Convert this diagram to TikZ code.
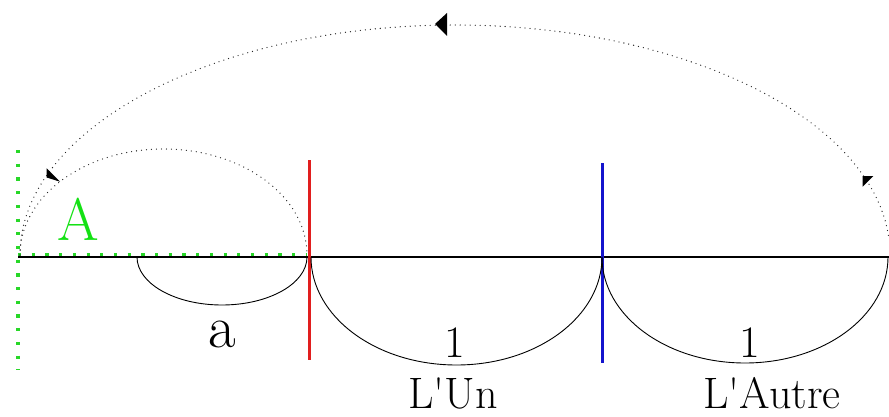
\documentclass[tikz,border=0pt]{standalone}
\begin{document}
\begin{tikzpicture}[x=1pt,y=1pt,
  lbl/.style={inner sep=0pt,anchor=base,font=\fontsize{45}{50}\selectfont},
  dotarc/.style={line width=1.3pt,line cap=round,dash pattern=on 0pt off 5pt,black!85},
  greendots/.style={line width=3.2pt,color=mygreen,dash pattern=on 3.2pt off 10.5pt},
  solidarc/.style={line width=0.9pt},
  tip/.style={fill=black,draw=none}]
\definecolor{mygreen}{RGB}{40,215,40}
\definecolor{textgreen}{RGB}{20,225,20}
\definecolor{myred}{RGB}{225,30,30}
\definecolor{myblue}{RGB}{20,20,205}
\useasboundingbox (0,0) rectangle (889,416);
% key points
\coordinate (O) at (18,159);
\coordinate (E) at (889,159);
\coordinate (R) at (309,159);
\coordinate (B) at (602,159);
% green dotted axes
\coordinate (gv1) at (18,266);
\coordinate (gv2) at (18,46);
\coordinate (gh2) at (306,161);
\coordinate (gh1) at (18,161);
\draw[greendots] (gv1) -- (gv2);
\draw[greendots] (gh1) -- (gh2);
% main black line
\draw[line width=2pt] (O) -- (E);
% red and blue lines
\coordinate (r1) at (309,256);
\coordinate (r2) at (309,56);
\coordinate (b1) at (602,253);
\coordinate (b2) at (602,53);
\draw[myred,line width=3pt] (r1) -- (r2);
\draw[myblue,line width=3pt] (b1) -- (b2);
% solid arcs under the line
\coordinate (a0) at (137,159);
\draw[solidarc] (a0) arc[start angle=180,end angle=360,x radius=85,y radius=48];
\coordinate (u0) at (311,159);
\draw[solidarc] (u0) arc[start angle=180,end angle=360,x radius=145.5,y radius=108];
\draw[solidarc] (B) arc[start angle=180,end angle=360,x radius=143,y radius=106];
% dotted arcs
\coordinate (d0) at (20,161);
\draw[dotarc] (d0) arc[start angle=180,end angle=0,x radius=143.5,y radius=106];
\draw[dotarc] (d0) arc[start angle=180,end angle=4,x radius=435,y radius=230];
% arrow heads
\fill[tip] (435,392) -- (447,403) -- (447,380) -- cycle;
\fill[tip] (862.7,240) -- (873.3,240) -- (862.7,229.3) -- cycle;
\fill[tip] (46.7,247.7) -- (46.7,238.5) -- (60,234.3) -- cycle;
% labels
\node[lbl,text=textgreen,font=\fontsize{60}{66}\selectfont] (lA) at (78,176) {A};
\node[lbl,font=\fontsize{60}{66}\selectfont] (la) at (222,69) {a};
\node[lbl] (l1) at (455,59) {1};
\node[lbl] (l2) at (750,59) {1};
\node[lbl,font=\fontsize{44}{48}\selectfont] (lun) at (453,8) {L\textquotesingle Un};
\node[lbl,font=\fontsize{44}{48}\selectfont] (laut) at (772,8) {L\textquotesingle Autre};
\end{tikzpicture}
\end{document}
